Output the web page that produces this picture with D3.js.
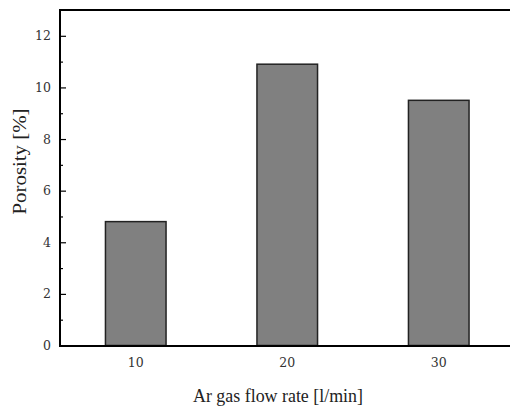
<!DOCTYPE html>
<html><head><meta charset="utf-8">
<script src="https://cdn.jsdelivr.net/npm/d3@7"></script>
<style>body{margin:0;background:#fff}svg{display:block}</style>
</head><body>
<script>
const categories = [10, 20, 30];
const porosity = [4.8, 10.9, 9.5];
const yTicks = [0, 2, 4, 6, 8, 10, 12];
const yMinor = [1, 3, 5, 7, 9, 11];

(function () {
const W = 510, H = 409;
const mLeft = 60, mTop = 10, mBottom = 345.5, mRight = 514.5;
const svg = d3.select("body").append("svg").attr("width", W).attr("height", H);
const font = "'Liberation Serif','DejaVu Serif',serif";
const tickFont = "'DejaVu Serif',serif";

const x = d3.scaleLinear().domain([5, 35]).range([mLeft, mRight]);
const y = d3.scaleLinear().domain([0, 13]).range([mBottom, mTop]);
const barW = x(14) - x(10);

svg.selectAll("rect.bar").data(categories).enter().append("rect")
  .attr("x", (d) => x(d) - barW / 2)
  .attr("y", (d, i) => y(porosity[i]))
  .attr("width", barW)
  .attr("height", (d, i) => y(0) - y(porosity[i]))
  .attr("fill", "#808080").attr("stroke", "#222").attr("stroke-width", 1.5);

const yAxis = d3.axisRight(y).tickValues(yTicks).tickSize(6).tickFormat("");
const yg = svg.append("g").attr("transform", `translate(${mLeft},0)`).call(yAxis);
yg.select(".domain").remove();
yg.selectAll(".tick line").attr("stroke", "#000").attr("stroke-width", 1.2);
const yMin = d3.axisRight(y).tickValues(yMinor).tickSize(3).tickFormat("");
const ym = svg.append("g").attr("transform", `translate(${mLeft},0)`).call(yMin);
ym.select(".domain").remove();
ym.selectAll(".tick line").attr("stroke", "#000").attr("stroke-width", 1.2);

svg.selectAll("text.ylab").data(yTicks).enter().append("text")
  .attr("x", 51).attr("y", (d) => y(d) + 4.5)
  .attr("text-anchor", "end").attr("font-family", tickFont).attr("font-size", 12.5)
  .attr("fill", "#333").text((d) => d);

svg.selectAll("text.xlab").data(categories).enter().append("text")
  .attr("x", (d) => x(d)).attr("y", 366.5)
  .attr("text-anchor", "middle").attr("font-family", tickFont).attr("font-size", 12.5)
  .attr("fill", "#333").text((d) => d);

svg.append("line").attr("x1", mLeft).attr("x2", W).attr("y1", mTop).attr("y2", mTop)
  .attr("stroke", "#000").attr("stroke-width", 2);
svg.append("line").attr("x1", mLeft).attr("x2", W).attr("y1", mBottom + 0.5).attr("y2", mBottom + 0.5)
  .attr("stroke", "#000").attr("stroke-width", 2);
svg.append("line").attr("x1", mLeft).attr("x2", mLeft).attr("y1", mTop - 1).attr("y2", mBottom + 1.5)
  .attr("stroke", "#000").attr("stroke-width", 2);

svg.append("text").attr("x", 278).attr("y", 402).attr("text-anchor", "middle")
  .attr("font-family", font).attr("font-size", 18).attr("fill", "#222")
  .attr("textLength", 170).attr("lengthAdjust", "spacingAndGlyphs")
  .text("Ar gas flow rate [l/min]");
svg.append("text").attr("transform", "translate(26,161.5) rotate(-90)")
  .attr("text-anchor", "middle").attr("font-family", font).attr("font-size", 18).attr("fill", "#222")
  .attr("textLength", 106).attr("lengthAdjust", "spacingAndGlyphs")
  .text("Porosity [%]");
})();
</script>
</body></html>
